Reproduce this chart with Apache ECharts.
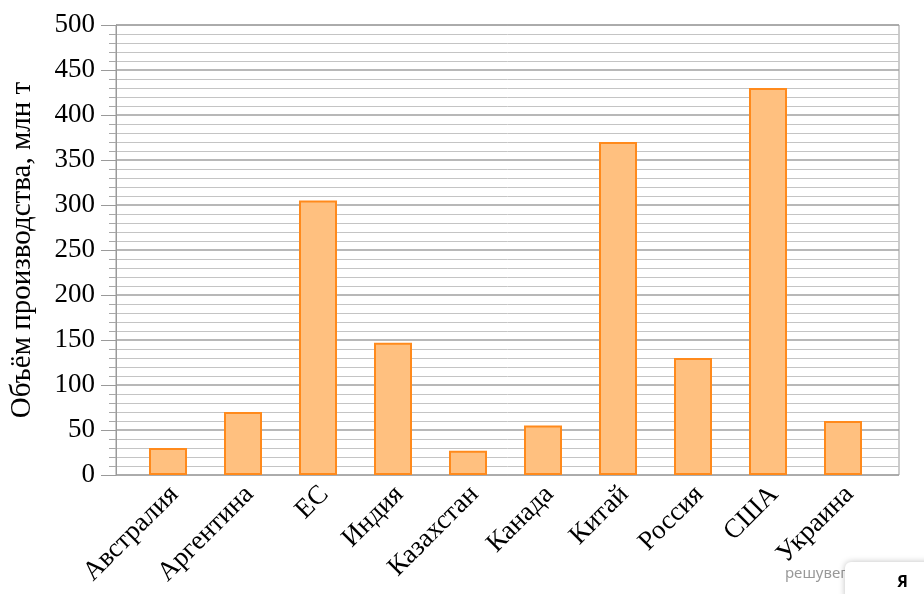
<!DOCTYPE html>
<html>
<head>
<meta charset="utf-8">
<script src="https://cdn.jsdelivr.net/npm/echarts@6/dist/echarts.min.js"></script>
<style>html,body{margin:0;padding:0;background:#fff}#c{width:924px;height:594px}</style>
</head>
<body>
<div id="c"></div>
<script>
const categories = ['Австралия','Аргентина','ЕС','Индия','Казахстан','Канада','Китай','Россия','США','Украина'];
const production = [30, 70, 305, 147, 27, 55, 370, 130, 430, 60];
const yMin = 0, yMax = 500, yInterval = 50;
const yTitle = 'Объём производства, млн т';

const serif = '"Liberation Serif", "DejaVu Serif", serif';
const chart = echarts.init(document.getElementById('c'));
chart.setOption({
  animation: false,
  backgroundColor: '#fff',
  grid: [
    {left: 115, right: 25, top: 25, bottom: 119, show: true, borderColor: '#9a9a9a', borderWidth: 1},
    {left: 130.5, right: 43.5, top: 25, bottom: 119}
  ],
  xAxis: [
    {gridIndex: 0, type: 'value', show: false, min: 0, max: 1},
    {gridIndex: 1, type: 'category', data: categories,
     axisLine: {show: false}, axisTick: {show: false},
     axisLabel: {rotate: 45, fontFamily: serif, fontSize: 27, color: '#000', margin: 9, interval: 0,
                 verticalAlign: 'top', lineHeight: 18}}
  ],
  yAxis: [
    {gridIndex: 0, type: 'value', min: yMin, max: yMax, interval: yInterval,
     name: yTitle, nameLocation: 'middle', nameGap: 79,
     nameTextStyle: {fontFamily: serif, fontSize: 29, color: '#000'},
     axisLine: {show: true, lineStyle: {color: '#9a9a9a', width: 1}},
     axisTick: {show: true, length: 15, lineStyle: {color: '#9a9a9a'}},
     minorTick: {show: true, splitNumber: 5, length: 7, lineStyle: {color: '#a8a8a8'}},
     splitLine: {show: true, lineStyle: {color: '#a0a0a0', width: 1.5}},
     minorSplitLine: {show: true, lineStyle: {color: '#c4c4c4', width: 1}},
     axisLabel: {fontFamily: serif, fontSize: 27, color: '#000', margin: 21}},
    {gridIndex: 1, type: 'value', min: yMin, max: yMax, show: false, splitLine: {show: false}}
  ],
  series: [{
    type: 'bar', xAxisIndex: 1, yAxisIndex: 1, data: production, barWidth: 38,
    itemStyle: {color: '#ffc07f', borderColor: '#ff8a1c', borderWidth: 2}
  }],
  graphic: [
    {type: 'text', left: 785, top: 566, style: {text: 'решувеге', fill: '#999', font: '15px "Noto Sans", sans-serif'}},
    {type: 'rect', shape: {x: 845, y: 562, width: 90, height: 40, r: 6},
     style: {fill: '#fff', shadowBlur: 6, shadowColor: 'rgba(0,0,0,0.25)'}},
    {type: 'text', left: 897, top: 574, style: {text: 'Я', fill: '#000', font: 'bold 16px "Noto Sans", sans-serif'}}
  ]
});
</script>
</body>
</html>
